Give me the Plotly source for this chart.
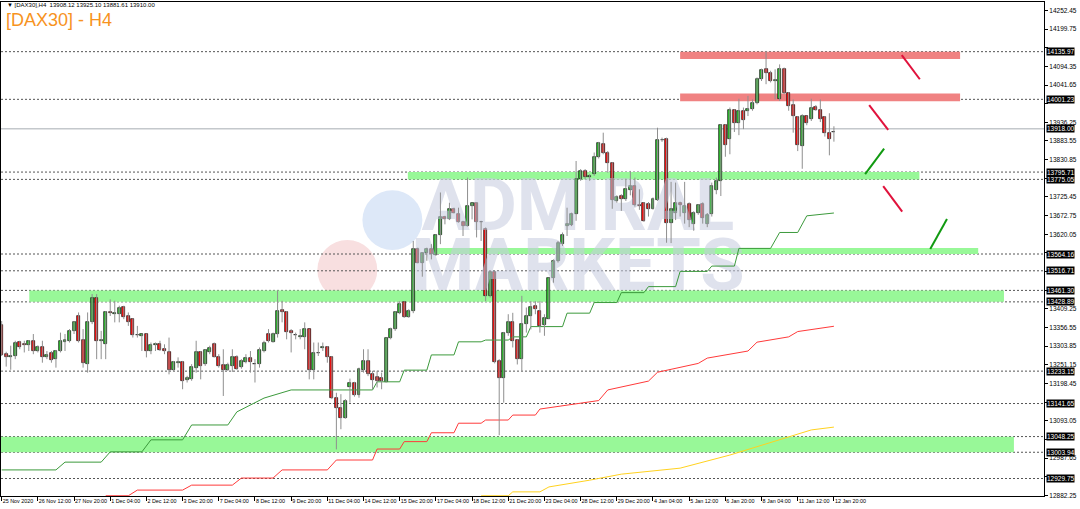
import plotly.graph_objects as go

# ---------------- data ----------------
opens = [13363,13282,13274,13276,13316,13309,13308,13318,13291,13301,13272,13284,13267,13289,13316,13318,13347,13389,13322,13253,
13371,13441,13318,13311,13401,13396,13396,13413,13389,13380,13335,13333,13338,13290,13308,13309,13295,13288,13237,13257,
13259,13207,13210,13243,13288,13253,13286,13309,13274,13250,13237,13248,13274,13246,13259,13269,13253,13253,13290,13338,
13316,13338,13405,13399,13347,13335,13331,13331,13352,13237,13284,13299,13300,13274,13158,13130,13102,13187,13199,13165,
13236,13263,13224,13216,13215,13203,13326,13351,13398,13429,13387,13403,13579,13540,13568,13579,13561,13617,13669,13662,
13691,13678,13656,13644,13700,13707,13655,13636,13446,13512,13262,13215,13340,13372,13321,13267,13367,13389,13417,13403,
13363,13381,13495,13545,13592,13642,13645,13676,13775,13799,13783,13790,13837,13874,13851,13821,13714,13728,13719,13745,
13757,13702,13708,13705,13692,13717,13887,13890,13651,13680,13709,13680,13705,13650,13681,13705,13650,13676,13745,13771,
13928,13890,13970,13935,13969,13969,13973,13990,14060,14086,14077,14053,14001,14088,14018,13985,13950,13870,13953,13945,
13981,13971,13950,13907,13908.12]
highs = [13375,13288,13305,13319,13319,13319,13321,13338,13306,13319,13290,13290,13293,13342,13338,13352,13375,13399,13352,13399,
13451,13451,13347,13403,13436,13432,13418,13418,13399,13382,13361,13338,13339,13314,13314,13319,13309,13328,13262,13272,
13262,13220,13253,13319,13290,13295,13305,13314,13281,13295,13257,13295,13278,13267,13281,13290,13267,13300,13319,13352,
13342,13460,13432,13403,13352,13342,13352,13371,13352,13314,13314,13314,13304,13276,13172,13168,13154,13212,13203,13243,
13295,13295,13234,13234,13229,13328,13356,13403,13431,13431,13408,13601,13582,13568,13582,13592,13620,13738,13672,13709,
13695,13695,13658,13780,13709,13709,13658,13639,13516,13516,13267,13344,13394,13398,13323,13446,13413,13431,13431,13431,
13394,13497,13549,13601,13625,13695,13681,13827,13804,13804,13790,13851,13881,13907,13855,13824,13730,13733,13777,13799,
13780,13747,13711,13711,13724,13921,13893,13893,13768,13766,13712,13768,13710,13685,13705,13710,13680,13766,13780,13931,
13931,13978,13973,14003,13978,14011,14001,14063,14088,14138,14082,14086,14100,14091,14022,14001,13954,13959,13955,14003,
13985,14001,13954,13962,13925.10]
lows = [13276,13246,13237,13267,13295,13286,13290,13281,13286,13257,13267,13257,13243,13286,13290,13314,13338,13314,13243,13229,
13366,13267,13267,13267,13389,13371,13371,13380,13361,13328,13328,13290,13272,13281,13290,13290,13281,13224,13234,13243,
13182,13201,13206,13229,13210,13248,13281,13272,13243,13163,13234,13231,13237,13240,13255,13229,13201,13243,13286,13314,
13314,13328,13371,13323,13286,13323,13323,13295,13210,13210,13276,13290,13257,13154,13012,13069,13099,13144,13161,13158,
13229,13219,13182,13187,13182,13201,13323,13347,13394,13384,13384,13397,13538,13500,13545,13549,13559,13592,13648,13660,
13679,13653,13615,13642,13662,13611,13601,13431,13441,13255,13052,13144,13333,13300,13252,13234,13342,13351,13394,13342,
13333,13380,13483,13540,13587,13615,13643,13658,13771,13775,13771,13785,13834,13846,13794,13692,13709,13686,13714,13730,
13698,13689,13655,13670,13690,13714,13881,13596,13595,13660,13670,13650,13640,13630,13675,13650,13640,13670,13733,13728,
13839,13846,13909,13900,13917,13954,13969,13987,14053,14044,14049,14001,13997,14016,13969,13907,13855,13805,13928,13940,
13969,13937,13896,13843,13881.61]
closes = [13278,13272,13275,13314,13302,13308,13318,13291,13301,13274,13278,13265,13289,13318,13320,13346,13371,13319,13257,13371,
13441,13319,13320,13401,13397,13396,13412,13387,13372,13335,13334,13338,13290,13307,13309,13293,13290,13237,13259,13257,
13206,13213,13246,13288,13248,13293,13298,13274,13248,13237,13250,13274,13240,13262,13269,13259,13253,13293,13312,13318,
13338,13404,13399,13345,13340,13334,13331,13352,13237,13284,13285,13300,13274,13158,13130,13102,13149,13199,13165,13238,
13263,13224,13208,13205,13205,13326,13351,13400,13422,13387,13403,13579,13540,13566,13578,13563,13617,13669,13662,13691,
13681,13655,13644,13700,13707,13655,13654,13446,13512,13259,13215,13340,13372,13318,13267,13367,13389,13415,13408,13361,
13384,13495,13545,13594,13617,13648,13676,13777,13799,13783,13784,13837,13877,13849,13820,13717,13726,13721,13747,13757,
13702,13701,13658,13692,13719,13887,13886,13651,13690,13709,13703,13700,13660,13681,13702,13667,13674,13756,13771,13928,
13871,13971,13934,13969,13942,13975,13990,14060,14084,14077,14053,14053,14088,14018,13983,13953,13871,13953,13934,13978,
13971,13947,13907,13890,13910.00]

time_ticks = list(range(0, 185, 8))
time_labels = ["25 Nov 2020","26 Nov 12:00","27 Nov 20:00","1 Dec 04:00","2 Dec 12:00","3 Dec 20:00","7 Dec 04:00",
               "8 Dec 12:00","9 Dec 20:00","11 Dec 04:00","14 Dec 12:00","15 Dec 20:00","17 Dec 04:00","18 Dec 12:00",
               "21 Dec 20:00","23 Dec 04:00","28 Dec 12:00","29 Dec 20:00","4 Jan 04:00","5 Jan 12:00","6 Jan 20:00",
               "8 Jan 04:00","11 Jan 12:00","12 Jan 20:00"]

price_ticks = [round(12882.25 + 52.7 * k, 2) for k in range(27)]

level_lines = [14135.97, 14001.23, 13795.71, 13775.05, 13564.16, 13516.71, 13461.30, 13428.89,
               13233.15, 13141.65, 13048.25, 13003.94, 12929.75]
bid_price = 13918.00

# zones: (start index, end index, low price, high price)
red_zones = [(150.0, 211.9, 14115, 14136), (150.0, 211.9, 13996, 14018)]
green_zones = [(89.8, 202.9, 13775, 13796), (96.2, 215.9, 13564, 13581),
               (6.1, 221.6, 13429, 13461), (-1, 223.8, 13004, 13048)]

# projected arrows (index0, price0, index1, price1)
red_arrows = [(199.0, 14126, 203.0, 14058), (191.8, 13985, 196.0, 13915), (194.9, 13756, 199.1, 13684)]
green_arrows = [(190.9, 13790, 195.1, 13862), (205.3, 13578, 209.0, 13663)]

# step indicator lines
green_step_x = [0, 12, 14, 22, 24, 31, 33, 40, 42, 50, 52, 58, 64, 82, 83, 88, 89, 94, 95, 100, 101, 106, 107, 112, 113, 116,
                117, 124, 125, 130, 131, 136, 137, 142, 143, 149, 150, 156, 157, 162, 163, 170, 172, 176, 178, 184]
green_step_y = [12954, 12954, 12976, 12976, 13005, 13005, 13039, 13039, 13081, 13081, 13118, 13157, 13180, 13180, 13203, 13203,
                13236, 13236, 13279, 13279, 13316, 13316, 13321, 13321, 13330, 13330, 13359, 13359, 13397, 13397, 13427, 13427,
                13455, 13455, 13472, 13472, 13515, 13515, 13530, 13530, 13580, 13580, 13625, 13625, 13672, 13680]
red_step_x = [23, 28, 30, 40, 42, 51, 53, 60, 62, 72, 74, 82, 83, 88, 89, 94, 95, 100, 101, 106, 107, 112, 113, 118, 119, 132,
              134, 143, 145, 154, 156, 165, 167, 174, 176, 184]
red_step_y = [12881, 12881, 12897, 12897, 12911, 12911, 12931, 12931, 12954, 12954, 12982, 12982, 13013, 13013, 13034, 13034,
              13059, 13059, 13086, 13086, 13095, 13095, 13109, 13109, 13126, 13150, 13180, 13205, 13230, 13255, 13270, 13290,
              13315, 13330, 13345, 13360]
yellow_step_x = [106, 112, 113, 119, 121, 130, 137, 150, 161, 172, 179, 184]
yellow_step_y = [12881, 12881, 12892, 12892, 12906, 12925, 12942, 12959, 12996, 13039, 13067, 13075]

# ---------------- figure ----------------
GREEN = "#2fbf2f"
RED = "#ff1010"
fig = go.Figure()

# watermark text (behind candles)
fig.add_trace(go.Scatter(x=[127.4, 127.4], y=[13683, 13513], mode="text",
                         text=["ADMIRAL", "MARKETS"],
                         textfont=dict(family="Roboto", size=72, color="rgba(196,203,222,0.55)", weight="bold"),
                         hoverinfo="skip", showlegend=False))

# step lines
fig.add_trace(go.Scatter(x=green_step_x, y=green_step_y, mode="lines", line=dict(color="#3c9a3c", width=1),
                         hoverinfo="skip", showlegend=False))
fig.add_trace(go.Scatter(x=red_step_x, y=red_step_y, mode="lines", line=dict(color="#ff3a3a", width=1),
                         hoverinfo="skip", showlegend=False))
fig.add_trace(go.Scatter(x=yellow_step_x, y=yellow_step_y, mode="lines", line=dict(color="#ffd21f", width=1),
                         hoverinfo="skip", showlegend=False))

# wicks
wx, wy = [], []
for i, (h, l) in enumerate(zip(highs, lows)):
    wx += [i, i, None]
    wy += [l, h, None]
fig.add_trace(go.Scatter(x=wx, y=wy, mode="lines", line=dict(color="#8f8f8f", width=1),
                         hoverinfo="skip", showlegend=False))

# bodies
idx = list(range(len(opens)))
base = [min(o, c) for o, c in zip(opens, closes)]
height = [max(abs(c - o), 1.5) for o, c in zip(opens, closes)]
cols = [GREEN if c >= o else RED for o, c in zip(opens, closes)]
fig.add_trace(go.Bar(x=idx, y=height, base=base, width=0.66, marker=dict(color=cols, line=dict(color="#111111", width=0.7)),
                     hoverinfo="skip", showlegend=False))

shapes = []
# watermark circles
shapes.append(dict(type="circle", xref="paper", yref="paper", x0=0.3465, x1=0.404, y0=0.498, y1=0.619,
                   fillcolor="#dde8f8", line=dict(width=0), layer="below"))
shapes.append(dict(type="circle", xref="paper", yref="paper", x0=0.3033, x1=0.3608, y0=0.3968, y1=0.5182,
                   fillcolor="#f8dfe0", line=dict(width=0), layer="below"))
for x0, x1, p0, p1 in green_zones:
    shapes.append(dict(type="rect", xref="x", yref="y", x0=x0, x1=x1, y0=p0, y1=p1,
                       fillcolor="#98f898", line=dict(width=0), layer="below"))
for x0, x1, p0, p1 in red_zones:
    shapes.append(dict(type="rect", xref="x", yref="y", x0=x0, x1=x1, y0=p0, y1=p1,
                       fillcolor="#f08282", line=dict(width=0), layer="below"))
for lv in level_lines:
    shapes.append(dict(type="line", xref="paper", yref="y", x0=0, x1=1, y0=lv, y1=lv,
                       line=dict(color="#555555", width=1, dash="2px,2px"), layer="below"))
shapes.append(dict(type="line", xref="paper", yref="y", x0=0, x1=1, y0=bid_price, y1=bid_price,
                   line=dict(color="#c4c8cc", width=1.5), layer="below"))
for a in red_arrows:
    shapes.append(dict(type="line", xref="x", yref="y", x0=a[0], y0=a[1], x1=a[2], y1=a[3],
                       line=dict(color="#e0123c", width=2)))
for a in green_arrows:
    shapes.append(dict(type="line", xref="x", yref="y", x0=a[0], y0=a[1], x1=a[2], y1=a[3],
                       line=dict(color="#119a11", width=2)))

annotations = []
for lv in level_lines + [bid_price]:
    annotations.append(dict(xref="paper", yref="y", x=1, y=lv, xanchor="left", yanchor="middle", xshift=2,
                            text=f"{lv:.2f}", showarrow=False, bgcolor="#000000", borderpad=0,
                            font=dict(family="Liberation Sans", size=6.5, color="#ffffff")))
annotations.append(dict(xref="paper", yref="paper", x=0.004, y=0.994, xanchor="left", yanchor="middle",
                        text="▼ [DAX30],H4  13908.12 13925.10 13881.61 13910.00", showarrow=False,
                        font=dict(family="Liberation Sans", size=6, color="#000000")))
annotations.append(dict(xref="paper", yref="paper", x=0.003, y=0.9636, xanchor="left", yanchor="middle",
                        text="[DAX30] - H4", showarrow=False,
                        font=dict(family="Liberation Sans", size=18, color="#f7931e")))

# price tick labels hidden behind highlighted level labels (as on the terminal)
highlighted = level_lines + [bid_price]
tick_text = [("" if min(abs(p - h) for h in highlighted) < 13 else f"{p:.2f}") for p in price_ticks]

fig.update_layout(
    width=1080, height=509, margin=dict(l=1, r=36, t=2, b=13, autoexpand=False),
    paper_bgcolor="white", plot_bgcolor="white", barmode="overlay", bargap=0,
    shapes=shapes, annotations=annotations, showlegend=False,
    xaxis=dict(range=[-0.15, 230.45], tickvals=time_ticks, ticktext=time_labels, ticks="outside", ticklen=4,
               tickangle=0, automargin=False,
               tickcolor="#000", ticklabelposition="outside right", showgrid=False, zeroline=False,
               showline=True, linecolor="#000", linewidth=1, mirror=True,
               tickfont=dict(family="Liberation Sans", size=5.4, color="#000")),
    yaxis=dict(range=[12880.3, 14276.3], side="right", tickvals=price_ticks, automargin=False,
               ticktext=tick_text, ticks="outside", ticklen=3, tickcolor="#000",
               showgrid=False, zeroline=False, showline=True, linecolor="#000", linewidth=1, mirror=True,
               tickfont=dict(family="Liberation Sans", size=6.5, color="#000")),
)
fig.write_html("out.html", config={"displayModeBar": False},
               post_script="document.body.style.margin='0';document.body.style.overflow='hidden';")
